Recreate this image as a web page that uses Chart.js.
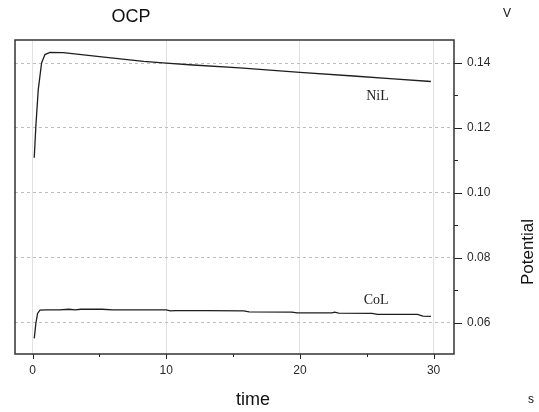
<!DOCTYPE html>
<html>
<head>
<meta charset="utf-8">
<title>OCP</title>
<script src="https://cdn.jsdelivr.net/npm/chart.js@4.4.1/dist/chart.umd.min.js"></script>
<style>
  html, body { margin: 0; padding: 0; background: #ffffff; }
  #wrap { width: 539px; height: 412px; }
</style>
</head>
<body>
<div id="wrap"><canvas id="c" width="539" height="412"></canvas></div>
<script>
// Open-circuit potential (V) against time (s)
const nilTime = [0.12, 0.24, 0.42, 0.67, 0.92, 1.29, 2.3, 5, 8.3, 10, 12, 15.5, 20, 24, 27, 29.8];
const nilPotential = [0.1108, 0.1205, 0.1318, 0.1400, 0.1426, 0.1433, 0.1432, 0.1420, 0.1405, 0.1400, 0.1394, 0.1385, 0.1371, 0.1360, 0.1351, 0.1343];

const colTime = [0.12, 0.24, 0.37, 0.55, 1, 2, 2.7, 3.2, 3.6, 4, 5.2, 6, 8, 10, 10.3, 10.7, 13, 15.8, 16.2, 19.4, 19.8, 22.4, 22.6, 22.9, 25.4, 25.8, 28.8, 29.2, 29.8];
const colPotential = [0.0551, 0.0597, 0.0628, 0.0638, 0.0639, 0.0639, 0.0641, 0.0639, 0.0641, 0.0641, 0.0641, 0.0639, 0.0639, 0.0639, 0.0636, 0.0637, 0.0637, 0.0636, 0.0633, 0.0632, 0.0630, 0.0630, 0.0632, 0.0629, 0.0628, 0.0625, 0.0625, 0.0620, 0.0619];

const timeTicks = [0, 10, 20, 30];
const timeMinorTicks = [5, 15, 25];
const potentialTicks = [0.06, 0.08, 0.10, 0.12, 0.14];
const potentialMinorTicks = [0.07, 0.09, 0.11, 0.13];

const seriesNames = ['NiL', 'CoL'];
const seriesLabelAt = [[25.8, 0.1297], [25.7, 0.0668]];

const toPoints = (xs, ys) => xs.map((x, i) => ({ x: x, y: ys[i] }));

// Frame, extra tick marks and free text (title, units, axis names, series names)
const decorations = {
  id: 'decorations',
  afterDraw(chart) {
    const ctx = chart.ctx;
    const a = chart.chartArea;
    const xs = chart.scales.x;
    const ys = chart.scales.y;
    ctx.save();

    // tick marks on the right axis
    ctx.strokeStyle = '#222';
    ctx.lineWidth = 1;
    potentialTicks.forEach(v => {
      const y = Math.round(ys.getPixelForValue(v)) + 0.5;
      ctx.beginPath(); ctx.moveTo(a.right, y); ctx.lineTo(a.right + 8, y); ctx.stroke();
    });
    potentialMinorTicks.forEach(v => {
      const y = Math.round(ys.getPixelForValue(v)) + 0.5;
      ctx.beginPath(); ctx.moveTo(a.right, y); ctx.lineTo(a.right + 4, y); ctx.stroke();
    });
    // tick marks below the time axis
    timeTicks.forEach(v => {
      const x = Math.round(xs.getPixelForValue(v)) + 0.5;
      ctx.beginPath(); ctx.moveTo(x, a.bottom); ctx.lineTo(x, a.bottom + 5); ctx.stroke();
    });
    timeMinorTicks.forEach(v => {
      const x = Math.round(xs.getPixelForValue(v)) + 0.5;
      ctx.beginPath(); ctx.moveTo(x, a.bottom); ctx.lineTo(x, a.bottom + 3); ctx.stroke();
    });

    // plot frame
    ctx.strokeStyle = '#333';
    ctx.lineWidth = 1.5;
    ctx.strokeRect(a.left, a.top, a.right - a.left, a.bottom - a.top);

    // text
    ctx.fillStyle = '#111';
    ctx.textAlign = 'center';
    ctx.textBaseline = 'middle';
    ctx.font = '18px "Liberation Sans", Arial, sans-serif';
    ctx.fillText('OCP', 131, 17);
    ctx.fillText('time', 253, 400);

    ctx.font = '12px "Liberation Sans", Arial, sans-serif';
    ctx.fillText('V', 507, 14);
    ctx.fillText('s', 531, 400);

    ctx.save();
    ctx.font = '17px "Liberation Sans", Arial, sans-serif';
    ctx.translate(528, 252);
    ctx.rotate(-Math.PI / 2);
    ctx.fillText('Potential', 0, 0);
    ctx.restore();

    ctx.font = '14px "Liberation Serif", "Times New Roman", serif';
    ctx.fillStyle = '#222';
    seriesNames.forEach((name, i) => {
      const p = seriesLabelAt[i];
      ctx.fillText(name, xs.getPixelForValue(p[0]), ys.getPixelForValue(p[1]));
    });

    ctx.restore();
  }
};

new Chart(document.getElementById('c'), {
  type: 'line',
  data: {
    datasets: [
      { label: seriesNames[0], data: toPoints(nilTime, nilPotential) },
      { label: seriesNames[1], data: toPoints(colTime, colPotential) }
    ]
  },
  options: {
    responsive: false,
    animation: false,
    devicePixelRatio: 1,
    layout: { padding: { left: 15, top: 40, right: 0, bottom: 0 } },
    elements: {
      line: { borderColor: '#1e1e1e', borderWidth: 1.3, tension: 0 },
      point: { radius: 0 }
    },
    plugins: {
      legend: { display: false },
      title: { display: false },
      tooltip: { enabled: false }
    },
    scales: {
      x: {
        type: 'linear',
        min: -1.32,
        max: 31.53,
        afterBuildTicks: s => { s.ticks = timeTicks.map(v => ({ value: v })); },
        afterFit: s => { s.height = 58; },
        grid: { color: '#e2e2e2', lineWidth: 1, drawTicks: false },
        border: { display: false },
        ticks: {
          padding: 9,
          color: '#2a2a2a',
          font: { family: '"Liberation Sans", Arial, sans-serif', size: 12 },
          callback: v => String(v)
        }
      },
      y: {
        type: 'linear',
        position: 'right',
        min: 0.0503,
        max: 0.1471,
        afterBuildTicks: s => { s.ticks = potentialTicks.map(v => ({ value: v })); },
        afterFit: s => { s.width = 85; },
        grid: { color: '#bdbdbd', lineWidth: 1, drawTicks: false, borderDash: [3, 3] },
        border: { display: false, dash: [3, 3] },
        ticks: {
          padding: 13,
          color: '#2a2a2a',
          font: { family: '"Liberation Sans", Arial, sans-serif', size: 12 },
          callback: v => v.toFixed(2)
        }
      }
    }
  },
  plugins: [decorations]
});
</script>
</body>
</html>
